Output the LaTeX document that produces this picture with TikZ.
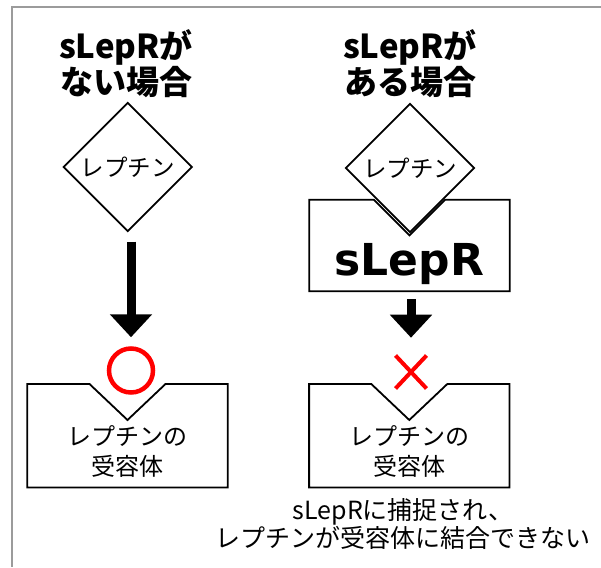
\documentclass[tikz,border=0pt]{standalone}
\usepackage{fontspec}
\setmainfont{Noto Sans CJK JP}
\newfontfamily\latinbold{DejaVu Sans}
\usepackage{xcolor}
\usetikzlibrary{shapes.geometric,shapes.misc,arrows.meta,positioning,calc}
\definecolor{markred}{RGB}{255,0,0}
\definecolor{framegray}{RGB}{155,155,155}

\begin{document}
\begin{tikzpicture}[
    x=1pt, y=-1pt,
    frame/.style={draw=framegray, line width=2pt},
    ligand/.style={diamond, draw, line width=1.8pt, fill=white, minimum width=129pt, minimum height=129pt, inner sep=0pt, font=\fontsize{23.5}{26}\selectfont},
    holder/.style={rectangle, minimum width=200pt, minimum height=103pt, inner sep=0pt},
    outline/.style={line width=1.8pt, line join=miter},
    title/.style={align=center, font=\bfseries\fontsize{33}{35}\selectfont},
    rectext/.style={align=center, font=\fontsize{24}{30}\selectfont},
    bigarrow/.style={line width=9pt, -{Triangle[width=41pt,length=23pt]}},
    okmark/.style={circle, draw=markred, line width=4.5pt, minimum size=44pt, inner sep=0pt},
    ngmark/.style={cross out, draw=markred, line width=4pt, minimum width=27pt, minimum height=29pt, inner sep=0pt}
]
    \useasboundingbox (0,0) rectangle (601,567);
    \draw[frame] (601,7) -- (12,7) -- (12,567);

    % Headings
    \node[title] (headL) at (126,64) {sLepRが\\ない場合};
    \node[title] (headR) at (410,64) {sLepRが\\ある場合};

    % Leptin
    \node[ligand] (dmL) at (127.7,167) {レプチン};

    % sLepR holding leptin
    \node[holder, minimum height=91pt] (boxS) at (409.5,245.5) {};
    \draw[outline] (boxS.north west) -- ($(boxS.north)+(-35.5,0)$) -- ($(boxS.north)+(0,35.5)$) -- ($(boxS.north)+(35.5,0)$) -- (boxS.north east) -- (boxS.south east) -- (boxS.south west) -- cycle;
    \node[ligand] (dmR) at (410,168) {レプチン};
    \node[anchor=base, font=\latinbold\bfseries\fontsize{44}{50}\selectfont] (sleprtext) at (409.5,275) {sLepR};

    % Receptors
    \node[holder] (recL) at (127.5,435.7) {};
    \node[holder] (recR) at (409.3,435.7) {};
    \foreach \b in {recL,recR}
        \draw[outline] (\b.north west) -- ($(\b.north)+(-38,0)$) -- ($(\b.north)+(0,36)$) -- ($(\b.north)+(38,0)$) -- (\b.north east) -- (\b.south east) -- (\b.south west) -- cycle;
    \node[rectext] (txtL) at ($(recL.center)+(0,16)$) {レプチンの\\受容体};
    \node[rectext] (txtR) at ($(recR.center)+(0,16)$) {レプチンの\\受容体};

    % Marks
    \node[okmark] (okL) at (131,370.5) {};
    \node[ngmark] (ngR) at (411,372) {};

    % Arrows
    \draw[bigarrow, shorten <=9.3pt, shorten >=9pt] (dmL.south -| okL.center) -- (okL.north);
    \draw[bigarrow, shorten <=8pt, shorten >=17.8pt] (boxS.south -| ngR.center) -- (ngR.north);

    % Note
    \node[align=center, font=\fontsize{25}{28.3}\selectfont] (note) at (403,524) {sLepRに捕捉され、\\レプチンが受容体に結合できない};
\end{tikzpicture}
\end{document}
